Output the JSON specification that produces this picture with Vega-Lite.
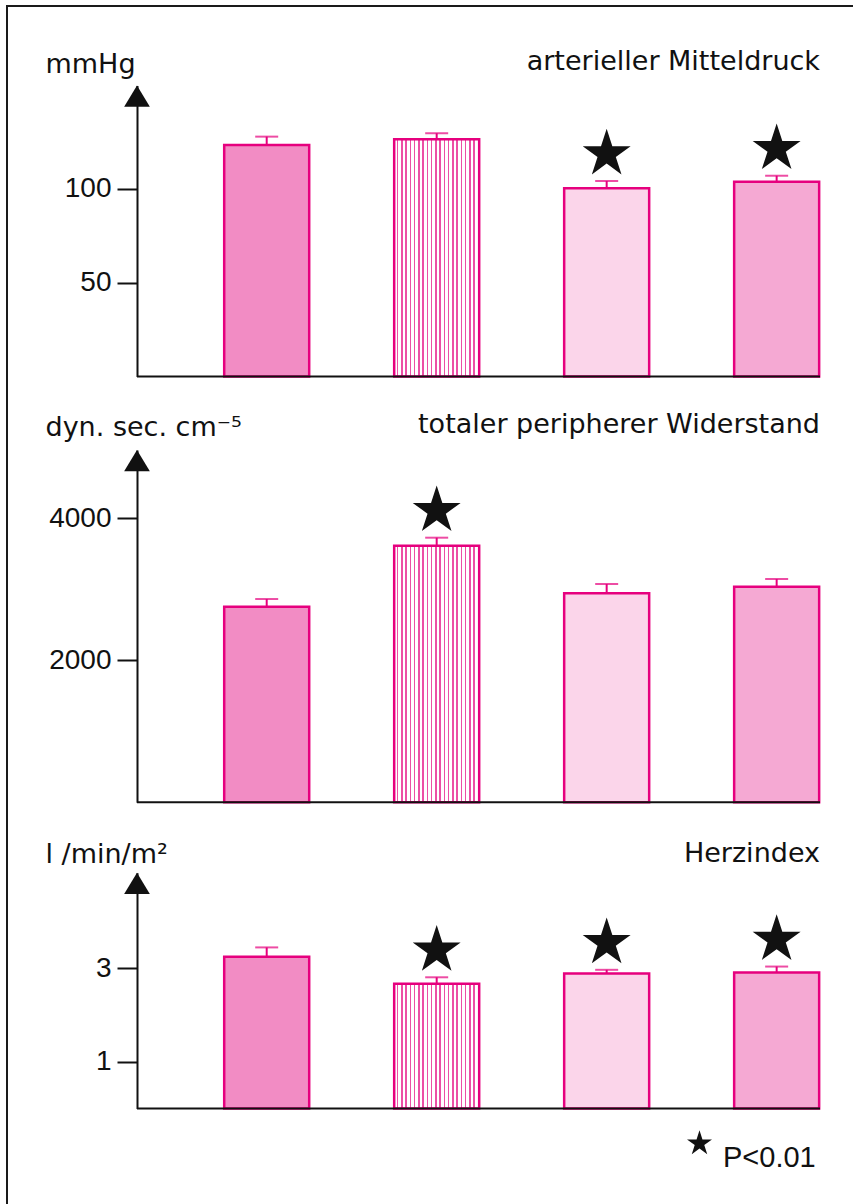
{
  "$schema": "https://vega.github.io/schema/vega-lite/v6.json",
  "width": 846,
  "height": 1198,
  "autosize": {"type": "none"},
  "padding": {"left": 7, "top": 6, "right": 0, "bottom": 0},
  "background": "white",
  "config": {
    "view": {"stroke": "#1a1a1a", "strokeWidth": 2, "strokeDash": [846, 2044, 1210, 10]},
    "axis": {"grid": false},
    "text": {"font": "DejaVu Sans"}
  },
  "datasets": {
    "bars": [
      {"panel": "A", "group": 1, "mean": 123.1, "upper": 127.6, "sig": "n.s."},
      {"panel": "A", "group": 2, "mean": 126.2, "upper": 129.4, "sig": "n.s."},
      {"panel": "A", "group": 3, "mean": 100.1, "upper": 104.0, "sig": "P<0.01"},
      {"panel": "A", "group": 4, "mean": 103.6, "upper": 106.8, "sig": "P<0.01"},
      {"panel": "B", "group": 1, "mean": 2755, "upper": 2863, "sig": "n.s."},
      {"panel": "B", "group": 2, "mean": 3614, "upper": 3727, "sig": "P<0.01"},
      {"panel": "B", "group": 3, "mean": 2944, "upper": 3075, "sig": "n.s."},
      {"panel": "B", "group": 4, "mean": 3037, "upper": 3145, "sig": "n.s."},
      {"panel": "C", "group": 1, "mean": 3.25, "upper": 3.45, "sig": "n.s."},
      {"panel": "C", "group": 2, "mean": 2.67, "upper": 2.81, "sig": "P<0.01"},
      {"panel": "C", "group": 3, "mean": 2.89, "upper": 2.97, "sig": "P<0.01"},
      {"panel": "C", "group": 4, "mean": 2.91, "upper": 3.04, "sig": "P<0.01"}
    ],
    "panels": [
      {"panel": "A", "title": "arterieller Mitteldruck"},
      {"panel": "B", "title": "totaler peripherer Widerstand"},
      {"panel": "C", "title": "Herzindex"}
    ]
  },
  "resolve": {"scale": {"y": "independent"}, "axis": {"y": "independent"}},
  "layer": [
    {
      "data": {"name": "bars"},
      "transform": [{"filter": "datum.panel == 'A'"}],
      "layer": [
        {
          "mark": {"type": "bar", "orient": "vertical", "width": 85, "stroke": "#e6007e", "strokeWidth": 2.5},
          "encoding": {
            "x": {"field": "group", "type": "quantitative", "scale": {"domain": [0.237, 4.255], "range": [130, 813], "nice": false, "zero": false, "padding": 0}, "axis": null},
            "y": {"field": "mean", "type": "quantitative", "stack": null,
              "scale": {"domain": [0, 154.8], "range": [370.5, 79.5], "nice": false, "zero": true, "padding": 0},
              "axis": {"orient": "left", "offset": -130, "values": [50, 100], "format": "d", "tickSize": 20, "tickWidth": 2, "tickColor": "#111", "domainColor": "#111", "domainWidth": 2, "labelFont": "Liberation Sans", "labelFontSize": 28, "labelColor": "#111", "labelPadding": 6, "grid": false, "title": "mmHg", "titleAngle": 0, "titleAlign": "left", "titleBaseline": "alphabetic", "titleX": -92, "titleY": 66, "titleFont": "DejaVu Sans", "titleFontSize": 27, "titleFontWeight": "normal", "titleColor": "#111"}},
            "fill": {
              "condition": [
                {"test": "datum.group == 2", "value": {"gradient": "linear", "x1": 0, "y1": 0, "x2": 1, "y2": 0, "stops": [
                  {"offset": 0, "color": "#ffffff"}, {"offset": 0.033, "color": "#ffffff"}, {"offset": 0.033, "color": "#ec4fa6"}, {"offset": 0.05, "color": "#ec4fa6"},
                  {"offset": 0.05, "color": "#ffffff"}, {"offset": 0.083, "color": "#ffffff"}, {"offset": 0.083, "color": "#ec4fa6"}, {"offset": 0.1, "color": "#ec4fa6"},
                  {"offset": 0.1, "color": "#ffffff"}, {"offset": 0.133, "color": "#ffffff"}, {"offset": 0.133, "color": "#ec4fa6"}, {"offset": 0.15, "color": "#ec4fa6"},
                  {"offset": 0.15, "color": "#ffffff"}, {"offset": 0.183, "color": "#ffffff"}, {"offset": 0.183, "color": "#ec4fa6"}, {"offset": 0.2, "color": "#ec4fa6"},
                  {"offset": 0.2, "color": "#ffffff"}, {"offset": 0.233, "color": "#ffffff"}, {"offset": 0.233, "color": "#ec4fa6"}, {"offset": 0.25, "color": "#ec4fa6"},
                  {"offset": 0.25, "color": "#ffffff"}, {"offset": 0.283, "color": "#ffffff"}, {"offset": 0.283, "color": "#ec4fa6"}, {"offset": 0.3, "color": "#ec4fa6"},
                  {"offset": 0.3, "color": "#ffffff"}, {"offset": 0.333, "color": "#ffffff"}, {"offset": 0.333, "color": "#ec4fa6"}, {"offset": 0.35, "color": "#ec4fa6"},
                  {"offset": 0.35, "color": "#ffffff"}, {"offset": 0.383, "color": "#ffffff"}, {"offset": 0.383, "color": "#ec4fa6"}, {"offset": 0.4, "color": "#ec4fa6"},
                  {"offset": 0.4, "color": "#ffffff"}, {"offset": 0.433, "color": "#ffffff"}, {"offset": 0.433, "color": "#ec4fa6"}, {"offset": 0.45, "color": "#ec4fa6"},
                  {"offset": 0.45, "color": "#ffffff"}, {"offset": 0.483, "color": "#ffffff"}, {"offset": 0.483, "color": "#ec4fa6"}, {"offset": 0.5, "color": "#ec4fa6"},
                  {"offset": 0.5, "color": "#ffffff"}, {"offset": 0.533, "color": "#ffffff"}, {"offset": 0.533, "color": "#ec4fa6"}, {"offset": 0.55, "color": "#ec4fa6"},
                  {"offset": 0.55, "color": "#ffffff"}, {"offset": 0.583, "color": "#ffffff"}, {"offset": 0.583, "color": "#ec4fa6"}, {"offset": 0.6, "color": "#ec4fa6"},
                  {"offset": 0.6, "color": "#ffffff"}, {"offset": 0.633, "color": "#ffffff"}, {"offset": 0.633, "color": "#ec4fa6"}, {"offset": 0.65, "color": "#ec4fa6"},
                  {"offset": 0.65, "color": "#ffffff"}, {"offset": 0.683, "color": "#ffffff"}, {"offset": 0.683, "color": "#ec4fa6"}, {"offset": 0.7, "color": "#ec4fa6"},
                  {"offset": 0.7, "color": "#ffffff"}, {"offset": 0.733, "color": "#ffffff"}, {"offset": 0.733, "color": "#ec4fa6"}, {"offset": 0.75, "color": "#ec4fa6"},
                  {"offset": 0.75, "color": "#ffffff"}, {"offset": 0.783, "color": "#ffffff"}, {"offset": 0.783, "color": "#ec4fa6"}, {"offset": 0.8, "color": "#ec4fa6"},
                  {"offset": 0.8, "color": "#ffffff"}, {"offset": 0.833, "color": "#ffffff"}, {"offset": 0.833, "color": "#ec4fa6"}, {"offset": 0.85, "color": "#ec4fa6"},
                  {"offset": 0.85, "color": "#ffffff"}, {"offset": 0.883, "color": "#ffffff"}, {"offset": 0.883, "color": "#ec4fa6"}, {"offset": 0.9, "color": "#ec4fa6"},
                  {"offset": 0.9, "color": "#ffffff"}, {"offset": 0.933, "color": "#ffffff"}, {"offset": 0.933, "color": "#ec4fa6"}, {"offset": 0.95, "color": "#ec4fa6"},
                  {"offset": 0.95, "color": "#ffffff"}, {"offset": 0.983, "color": "#ffffff"}, {"offset": 0.983, "color": "#ec4fa6"}, {"offset": 1, "color": "#ec4fa6"}
                ]}},
                {"test": "datum.group == 3", "value": "#fbd5ea"},
                {"test": "datum.group == 4", "value": "#f5a9d3"}
              ],
              "value": "#f28cc4"
            }
          }
        },
        {
          "mark": {"type": "rule", "stroke": "#e6007e", "strokeWidth": 2},
          "encoding": {
            "x": {"field": "group", "type": "quantitative", "axis": null},
            "y": {"field": "mean", "type": "quantitative"},
            "y2": {"field": "upper"}
          }
        },
        {
          "mark": {"type": "tick", "orient": "horizontal", "color": "#e6007e", "size": 23, "thickness": 2},
          "encoding": {
            "x": {"field": "group", "type": "quantitative", "axis": null},
            "y": {"field": "upper", "type": "quantitative"}
          }
        },
        {
          "transform": [{"filter": "datum.sig == 'P<0.01'"}],
          "mark": {"type": "point", "filled": true, "color": "#111", "size": 2540, "yOffset": -27, "opacity": 1, "strokeWidth": 0},
          "encoding": {
            "x": {"field": "group", "type": "quantitative", "axis": null},
            "y": {"field": "upper", "type": "quantitative"},
            "shape": {"field": "sig", "type": "nominal",
              "scale": {"domain": ["P<0.01"], "range": ["M0,-1L0.225,-0.309L0.951,-0.309L0.363,0.118L0.588,0.809L0,0.382L-0.588,0.809L-0.363,0.118L-0.951,-0.309L-0.225,-0.309Z"]},
              "legend": {"orient": "none", "legendX": 678, "legendY": 1123, "title": null, "padding": 0, "symbolSize": 690, "symbolFillColor": "#111", "symbolStrokeColor": "#111", "symbolStrokeWidth": 0, "labelFont": "Liberation Sans", "labelFontSize": 29, "labelColor": "#111", "labelOffset": 9, "labelBaseline": "top"}}
          }
        },
        {
          "data": {"name": "panels"},
          "transform": [{"filter": "datum.panel == 'A'"}],
          "mark": {"type": "rule", "color": "#111", "strokeWidth": 2},
          "encoding": {
            "x": {"datum": 0.237, "type": "quantitative", "axis": null},
            "x2": {"datum": 4.255},
            "y": {"datum": 0, "type": "quantitative"}
          }
        },
        {
          "data": {"name": "panels"},
          "transform": [{"filter": "datum.panel == 'A'"}],
          "mark": {"type": "point", "shape": "M0,0L1,1.65L-1,1.65Z", "size": 660, "filled": true, "color": "#111", "opacity": 1, "strokeWidth": 0},
          "encoding": {
            "x": {"datum": 0.237, "type": "quantitative", "axis": null},
            "y": {"datum": 154.8, "type": "quantitative"}
          }
        },
        {
          "data": {"name": "panels"},
          "transform": [{"filter": "datum.panel == 'A'"}],
          "mark": {"type": "text", "align": "right", "baseline": "alphabetic", "font": "DejaVu Sans", "fontSize": 27, "color": "#111"},
          "encoding": {
            "x": {"datum": 4.255, "type": "quantitative", "axis": null},
            "y": {"datum": 163.0, "type": "quantitative"},
            "text": {"field": "title"}
          }
        }
      ]
    },
    {
      "data": {"name": "bars"},
      "transform": [{"filter": "datum.panel == 'B'"}],
      "layer": [
        {
          "mark": {"type": "bar", "orient": "vertical", "width": 85, "stroke": "#e6007e", "strokeWidth": 2.5},
          "encoding": {
            "x": {"field": "group", "type": "quantitative", "scale": {"domain": [0.237, 4.255], "range": [130, 813], "nice": false, "zero": false, "padding": 0}, "axis": null},
            "y": {"field": "mean", "type": "quantitative", "stack": null,
              "scale": {"domain": [0, 4962], "range": [796.3, 444], "nice": false, "zero": true, "padding": 0},
              "axis": {"orient": "left", "offset": -130, "values": [2000, 4000], "format": "d", "tickSize": 20, "tickWidth": 2, "tickColor": "#111", "domainColor": "#111", "domainWidth": 2, "labelFont": "Liberation Sans", "labelFontSize": 28, "labelColor": "#111", "labelPadding": 6, "grid": false, "title": "dyn. sec. cm⁻⁵", "titleAngle": 0, "titleAlign": "left", "titleBaseline": "alphabetic", "titleX": -92, "titleY": 429, "titleFont": "DejaVu Sans", "titleFontSize": 27, "titleFontWeight": "normal", "titleColor": "#111"}},
            "fill": {
              "condition": [
                {"test": "datum.group == 2", "value": {"gradient": "linear", "x1": 0, "y1": 0, "x2": 1, "y2": 0, "stops": [
                  {"offset": 0, "color": "#ffffff"}, {"offset": 0.033, "color": "#ffffff"}, {"offset": 0.033, "color": "#ec4fa6"}, {"offset": 0.05, "color": "#ec4fa6"},
                  {"offset": 0.05, "color": "#ffffff"}, {"offset": 0.083, "color": "#ffffff"}, {"offset": 0.083, "color": "#ec4fa6"}, {"offset": 0.1, "color": "#ec4fa6"},
                  {"offset": 0.1, "color": "#ffffff"}, {"offset": 0.133, "color": "#ffffff"}, {"offset": 0.133, "color": "#ec4fa6"}, {"offset": 0.15, "color": "#ec4fa6"},
                  {"offset": 0.15, "color": "#ffffff"}, {"offset": 0.183, "color": "#ffffff"}, {"offset": 0.183, "color": "#ec4fa6"}, {"offset": 0.2, "color": "#ec4fa6"},
                  {"offset": 0.2, "color": "#ffffff"}, {"offset": 0.233, "color": "#ffffff"}, {"offset": 0.233, "color": "#ec4fa6"}, {"offset": 0.25, "color": "#ec4fa6"},
                  {"offset": 0.25, "color": "#ffffff"}, {"offset": 0.283, "color": "#ffffff"}, {"offset": 0.283, "color": "#ec4fa6"}, {"offset": 0.3, "color": "#ec4fa6"},
                  {"offset": 0.3, "color": "#ffffff"}, {"offset": 0.333, "color": "#ffffff"}, {"offset": 0.333, "color": "#ec4fa6"}, {"offset": 0.35, "color": "#ec4fa6"},
                  {"offset": 0.35, "color": "#ffffff"}, {"offset": 0.383, "color": "#ffffff"}, {"offset": 0.383, "color": "#ec4fa6"}, {"offset": 0.4, "color": "#ec4fa6"},
                  {"offset": 0.4, "color": "#ffffff"}, {"offset": 0.433, "color": "#ffffff"}, {"offset": 0.433, "color": "#ec4fa6"}, {"offset": 0.45, "color": "#ec4fa6"},
                  {"offset": 0.45, "color": "#ffffff"}, {"offset": 0.483, "color": "#ffffff"}, {"offset": 0.483, "color": "#ec4fa6"}, {"offset": 0.5, "color": "#ec4fa6"},
                  {"offset": 0.5, "color": "#ffffff"}, {"offset": 0.533, "color": "#ffffff"}, {"offset": 0.533, "color": "#ec4fa6"}, {"offset": 0.55, "color": "#ec4fa6"},
                  {"offset": 0.55, "color": "#ffffff"}, {"offset": 0.583, "color": "#ffffff"}, {"offset": 0.583, "color": "#ec4fa6"}, {"offset": 0.6, "color": "#ec4fa6"},
                  {"offset": 0.6, "color": "#ffffff"}, {"offset": 0.633, "color": "#ffffff"}, {"offset": 0.633, "color": "#ec4fa6"}, {"offset": 0.65, "color": "#ec4fa6"},
                  {"offset": 0.65, "color": "#ffffff"}, {"offset": 0.683, "color": "#ffffff"}, {"offset": 0.683, "color": "#ec4fa6"}, {"offset": 0.7, "color": "#ec4fa6"},
                  {"offset": 0.7, "color": "#ffffff"}, {"offset": 0.733, "color": "#ffffff"}, {"offset": 0.733, "color": "#ec4fa6"}, {"offset": 0.75, "color": "#ec4fa6"},
                  {"offset": 0.75, "color": "#ffffff"}, {"offset": 0.783, "color": "#ffffff"}, {"offset": 0.783, "color": "#ec4fa6"}, {"offset": 0.8, "color": "#ec4fa6"},
                  {"offset": 0.8, "color": "#ffffff"}, {"offset": 0.833, "color": "#ffffff"}, {"offset": 0.833, "color": "#ec4fa6"}, {"offset": 0.85, "color": "#ec4fa6"},
                  {"offset": 0.85, "color": "#ffffff"}, {"offset": 0.883, "color": "#ffffff"}, {"offset": 0.883, "color": "#ec4fa6"}, {"offset": 0.9, "color": "#ec4fa6"},
                  {"offset": 0.9, "color": "#ffffff"}, {"offset": 0.933, "color": "#ffffff"}, {"offset": 0.933, "color": "#ec4fa6"}, {"offset": 0.95, "color": "#ec4fa6"},
                  {"offset": 0.95, "color": "#ffffff"}, {"offset": 0.983, "color": "#ffffff"}, {"offset": 0.983, "color": "#ec4fa6"}, {"offset": 1, "color": "#ec4fa6"}
                ]}},
                {"test": "datum.group == 3", "value": "#fbd5ea"},
                {"test": "datum.group == 4", "value": "#f5a9d3"}
              ],
              "value": "#f28cc4"
            }
          }
        },
        {
          "mark": {"type": "rule", "stroke": "#e6007e", "strokeWidth": 2},
          "encoding": {
            "x": {"field": "group", "type": "quantitative", "axis": null},
            "y": {"field": "mean", "type": "quantitative"},
            "y2": {"field": "upper"}
          }
        },
        {
          "mark": {"type": "tick", "orient": "horizontal", "color": "#e6007e", "size": 23, "thickness": 2},
          "encoding": {
            "x": {"field": "group", "type": "quantitative", "axis": null},
            "y": {"field": "upper", "type": "quantitative"}
          }
        },
        {
          "transform": [{"filter": "datum.sig == 'P<0.01'"}],
          "mark": {"type": "point", "filled": true, "color": "#111", "size": 2540, "yOffset": -27, "opacity": 1, "strokeWidth": 0},
          "encoding": {
            "x": {"field": "group", "type": "quantitative", "axis": null},
            "y": {"field": "upper", "type": "quantitative"},
            "shape": {"field": "sig", "type": "nominal",
              "scale": {"domain": ["P<0.01"], "range": ["M0,-1L0.225,-0.309L0.951,-0.309L0.363,0.118L0.588,0.809L0,0.382L-0.588,0.809L-0.363,0.118L-0.951,-0.309L-0.225,-0.309Z"]},
              "legend": {"orient": "none", "legendX": 678, "legendY": 1123, "title": null, "padding": 0, "symbolSize": 690, "symbolFillColor": "#111", "symbolStrokeColor": "#111", "symbolStrokeWidth": 0, "labelFont": "Liberation Sans", "labelFontSize": 29, "labelColor": "#111", "labelOffset": 9, "labelBaseline": "top"}}
          }
        },
        {
          "data": {"name": "panels"},
          "transform": [{"filter": "datum.panel == 'B'"}],
          "mark": {"type": "rule", "color": "#111", "strokeWidth": 2},
          "encoding": {
            "x": {"datum": 0.237, "type": "quantitative", "axis": null},
            "x2": {"datum": 4.255},
            "y": {"datum": 0, "type": "quantitative"}
          }
        },
        {
          "data": {"name": "panels"},
          "transform": [{"filter": "datum.panel == 'B'"}],
          "mark": {"type": "point", "shape": "M0,0L1,1.65L-1,1.65Z", "size": 660, "filled": true, "color": "#111", "opacity": 1, "strokeWidth": 0},
          "encoding": {
            "x": {"datum": 0.237, "type": "quantitative", "axis": null},
            "y": {"datum": 4962, "type": "quantitative"}
          }
        },
        {
          "data": {"name": "panels"},
          "transform": [{"filter": "datum.panel == 'B'"}],
          "mark": {"type": "text", "align": "right", "baseline": "alphabetic", "font": "DejaVu Sans", "fontSize": 27, "color": "#111"},
          "encoding": {
            "x": {"datum": 4.255, "type": "quantitative", "axis": null},
            "y": {"datum": 5201, "type": "quantitative"},
            "text": {"field": "title"}
          }
        }
      ]
    },
    {
      "data": {"name": "bars"},
      "transform": [{"filter": "datum.panel == 'C'"}],
      "layer": [
        {
          "mark": {"type": "bar", "orient": "vertical", "width": 85, "stroke": "#e6007e", "strokeWidth": 2.5},
          "encoding": {
            "x": {"field": "group", "type": "quantitative", "scale": {"domain": [0.237, 4.255], "range": [130, 813], "nice": false, "zero": false, "padding": 0}, "axis": null},
            "y": {"field": "mean", "type": "quantitative", "stack": null,
              "scale": {"domain": [0, 5.05], "range": [1102.5, 866.7], "nice": false, "zero": true, "padding": 0},
              "axis": {"orient": "left", "offset": -130, "values": [1, 3], "format": "d", "tickSize": 20, "tickWidth": 2, "tickColor": "#111", "domainColor": "#111", "domainWidth": 2, "labelFont": "Liberation Sans", "labelFontSize": 28, "labelColor": "#111", "labelPadding": 6, "grid": false, "title": "l /min/m²", "titleAngle": 0, "titleAlign": "left", "titleBaseline": "alphabetic", "titleX": -92, "titleY": 856.7, "titleFont": "DejaVu Sans", "titleFontSize": 27, "titleFontWeight": "normal", "titleColor": "#111"}},
            "fill": {
              "condition": [
                {"test": "datum.group == 2", "value": {"gradient": "linear", "x1": 0, "y1": 0, "x2": 1, "y2": 0, "stops": [
                  {"offset": 0, "color": "#ffffff"}, {"offset": 0.033, "color": "#ffffff"}, {"offset": 0.033, "color": "#ec4fa6"}, {"offset": 0.05, "color": "#ec4fa6"},
                  {"offset": 0.05, "color": "#ffffff"}, {"offset": 0.083, "color": "#ffffff"}, {"offset": 0.083, "color": "#ec4fa6"}, {"offset": 0.1, "color": "#ec4fa6"},
                  {"offset": 0.1, "color": "#ffffff"}, {"offset": 0.133, "color": "#ffffff"}, {"offset": 0.133, "color": "#ec4fa6"}, {"offset": 0.15, "color": "#ec4fa6"},
                  {"offset": 0.15, "color": "#ffffff"}, {"offset": 0.183, "color": "#ffffff"}, {"offset": 0.183, "color": "#ec4fa6"}, {"offset": 0.2, "color": "#ec4fa6"},
                  {"offset": 0.2, "color": "#ffffff"}, {"offset": 0.233, "color": "#ffffff"}, {"offset": 0.233, "color": "#ec4fa6"}, {"offset": 0.25, "color": "#ec4fa6"},
                  {"offset": 0.25, "color": "#ffffff"}, {"offset": 0.283, "color": "#ffffff"}, {"offset": 0.283, "color": "#ec4fa6"}, {"offset": 0.3, "color": "#ec4fa6"},
                  {"offset": 0.3, "color": "#ffffff"}, {"offset": 0.333, "color": "#ffffff"}, {"offset": 0.333, "color": "#ec4fa6"}, {"offset": 0.35, "color": "#ec4fa6"},
                  {"offset": 0.35, "color": "#ffffff"}, {"offset": 0.383, "color": "#ffffff"}, {"offset": 0.383, "color": "#ec4fa6"}, {"offset": 0.4, "color": "#ec4fa6"},
                  {"offset": 0.4, "color": "#ffffff"}, {"offset": 0.433, "color": "#ffffff"}, {"offset": 0.433, "color": "#ec4fa6"}, {"offset": 0.45, "color": "#ec4fa6"},
                  {"offset": 0.45, "color": "#ffffff"}, {"offset": 0.483, "color": "#ffffff"}, {"offset": 0.483, "color": "#ec4fa6"}, {"offset": 0.5, "color": "#ec4fa6"},
                  {"offset": 0.5, "color": "#ffffff"}, {"offset": 0.533, "color": "#ffffff"}, {"offset": 0.533, "color": "#ec4fa6"}, {"offset": 0.55, "color": "#ec4fa6"},
                  {"offset": 0.55, "color": "#ffffff"}, {"offset": 0.583, "color": "#ffffff"}, {"offset": 0.583, "color": "#ec4fa6"}, {"offset": 0.6, "color": "#ec4fa6"},
                  {"offset": 0.6, "color": "#ffffff"}, {"offset": 0.633, "color": "#ffffff"}, {"offset": 0.633, "color": "#ec4fa6"}, {"offset": 0.65, "color": "#ec4fa6"},
                  {"offset": 0.65, "color": "#ffffff"}, {"offset": 0.683, "color": "#ffffff"}, {"offset": 0.683, "color": "#ec4fa6"}, {"offset": 0.7, "color": "#ec4fa6"},
                  {"offset": 0.7, "color": "#ffffff"}, {"offset": 0.733, "color": "#ffffff"}, {"offset": 0.733, "color": "#ec4fa6"}, {"offset": 0.75, "color": "#ec4fa6"},
                  {"offset": 0.75, "color": "#ffffff"}, {"offset": 0.783, "color": "#ffffff"}, {"offset": 0.783, "color": "#ec4fa6"}, {"offset": 0.8, "color": "#ec4fa6"},
                  {"offset": 0.8, "color": "#ffffff"}, {"offset": 0.833, "color": "#ffffff"}, {"offset": 0.833, "color": "#ec4fa6"}, {"offset": 0.85, "color": "#ec4fa6"},
                  {"offset": 0.85, "color": "#ffffff"}, {"offset": 0.883, "color": "#ffffff"}, {"offset": 0.883, "color": "#ec4fa6"}, {"offset": 0.9, "color": "#ec4fa6"},
                  {"offset": 0.9, "color": "#ffffff"}, {"offset": 0.933, "color": "#ffffff"}, {"offset": 0.933, "color": "#ec4fa6"}, {"offset": 0.95, "color": "#ec4fa6"},
                  {"offset": 0.95, "color": "#ffffff"}, {"offset": 0.983, "color": "#ffffff"}, {"offset": 0.983, "color": "#ec4fa6"}, {"offset": 1, "color": "#ec4fa6"}
                ]}},
                {"test": "datum.group == 3", "value": "#fbd5ea"},
                {"test": "datum.group == 4", "value": "#f5a9d3"}
              ],
              "value": "#f28cc4"
            }
          }
        },
        {
          "mark": {"type": "rule", "stroke": "#e6007e", "strokeWidth": 2},
          "encoding": {
            "x": {"field": "group", "type": "quantitative", "axis": null},
            "y": {"field": "mean", "type": "quantitative"},
            "y2": {"field": "upper"}
          }
        },
        {
          "mark": {"type": "tick", "orient": "horizontal", "color": "#e6007e", "size": 23, "thickness": 2},
          "encoding": {
            "x": {"field": "group", "type": "quantitative", "axis": null},
            "y": {"field": "upper", "type": "quantitative"}
          }
        },
        {
          "transform": [{"filter": "datum.sig == 'P<0.01'"}],
          "mark": {"type": "point", "filled": true, "color": "#111", "size": 2540, "yOffset": -27, "opacity": 1, "strokeWidth": 0},
          "encoding": {
            "x": {"field": "group", "type": "quantitative", "axis": null},
            "y": {"field": "upper", "type": "quantitative"},
            "shape": {"field": "sig", "type": "nominal",
              "scale": {"domain": ["P<0.01"], "range": ["M0,-1L0.225,-0.309L0.951,-0.309L0.363,0.118L0.588,0.809L0,0.382L-0.588,0.809L-0.363,0.118L-0.951,-0.309L-0.225,-0.309Z"]},
              "legend": {"orient": "none", "legendX": 678, "legendY": 1123, "title": null, "padding": 0, "symbolSize": 690, "symbolFillColor": "#111", "symbolStrokeColor": "#111", "symbolStrokeWidth": 0, "labelFont": "Liberation Sans", "labelFontSize": 29, "labelColor": "#111", "labelOffset": 9, "labelBaseline": "top"}}
          }
        },
        {
          "data": {"name": "panels"},
          "transform": [{"filter": "datum.panel == 'C'"}],
          "mark": {"type": "rule", "color": "#111", "strokeWidth": 2},
          "encoding": {
            "x": {"datum": 0.237, "type": "quantitative", "axis": null},
            "x2": {"datum": 4.255},
            "y": {"datum": 0, "type": "quantitative"}
          }
        },
        {
          "data": {"name": "panels"},
          "transform": [{"filter": "datum.panel == 'C'"}],
          "mark": {"type": "point", "shape": "M0,0L1,1.65L-1,1.65Z", "size": 660, "filled": true, "color": "#111", "opacity": 1, "strokeWidth": 0},
          "encoding": {
            "x": {"datum": 0.237, "type": "quantitative", "axis": null},
            "y": {"datum": 5.05, "type": "quantitative"}
          }
        },
        {
          "data": {"name": "panels"},
          "transform": [{"filter": "datum.panel == 'C'"}],
          "mark": {"type": "text", "align": "right", "baseline": "alphabetic", "font": "DejaVu Sans", "fontSize": 27, "color": "#111"},
          "encoding": {
            "x": {"datum": 4.255, "type": "quantitative", "axis": null},
            "y": {"datum": 5.286, "type": "quantitative"},
            "text": {"field": "title"}
          }
        }
      ]
    }
  ]
}
